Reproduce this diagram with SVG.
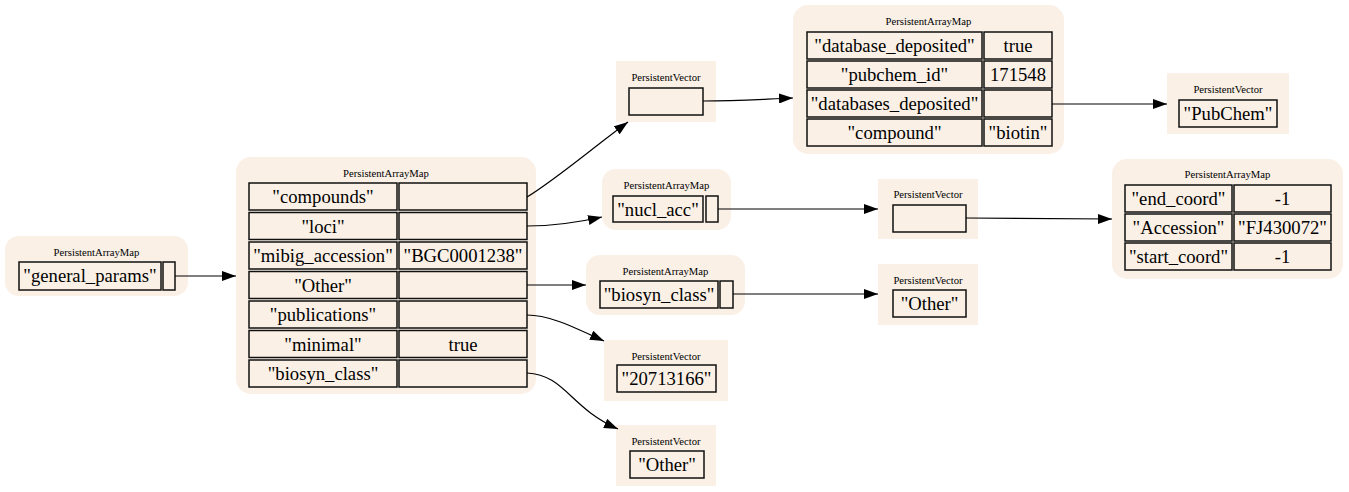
<svg xmlns="http://www.w3.org/2000/svg" width="1349" height="492" viewBox="0 0 1349 492">
<defs>
<style>
.bg{fill:#faf0e6;stroke:none}
.c{fill:#faf0e6;stroke:#111;stroke-width:1.5}
.t{font-family:"Liberation Serif","Times New Roman",serif;font-size:10.67px;fill:#000;text-anchor:middle}
.k{font-family:"Liberation Serif","Times New Roman",serif;font-size:18.67px;fill:#000;text-anchor:middle}
.e{fill:none;stroke:#000;stroke-width:1.2}
</style>
<marker id="ah" markerUnits="userSpaceOnUse" markerWidth="14" markerHeight="10" refX="14" refY="5" orient="auto">
<path d="M0,0 L14,5 L0,10 z" fill="#000"/>
</marker>
</defs>
<rect width="1349" height="492" fill="#fff"/>

<g id="node_root">
<rect class="bg" x="5" y="236" width="183" height="60" rx="14"/>
<text class="t" x="96.5" y="255.5">PersistentArrayMap</text>
<rect class="c" x="19" y="262" width="142" height="28"/>
<text class="k" x="90" y="282">"general_params"</text>
<rect class="c" x="163" y="262" width="12" height="28"/>
</g>

<g id="node_main">
<rect class="bg" x="236" y="157" width="300" height="237" rx="15"/>
<text class="t" x="386" y="176.5">PersistentArrayMap</text>
<rect class="c" x="249" y="183" width="148" height="27"/><text class="k" x="323" y="203">"compounds"</text>
<rect class="c" x="399" y="183" width="128" height="27"/>
<rect class="c" x="249" y="212.5" width="148" height="27"/><text class="k" x="323" y="232.5">"loci"</text>
<rect class="c" x="399" y="212.5" width="128" height="27"/>
<rect class="c" x="249" y="242" width="148" height="27"/><text class="k" x="323" y="262">"mibig_accession"</text>
<rect class="c" x="399" y="242" width="128" height="27"/><text class="k" x="463" y="262">"BGC0001238"</text>
<rect class="c" x="249" y="271.5" width="148" height="27"/><text class="k" x="323" y="291.5">"Other"</text>
<rect class="c" x="399" y="271.5" width="128" height="27"/>
<rect class="c" x="249" y="301" width="148" height="27"/><text class="k" x="323" y="321">"publications"</text>
<rect class="c" x="399" y="301" width="128" height="27"/>
<rect class="c" x="249" y="330.5" width="148" height="27"/><text class="k" x="323" y="350.5">"minimal"</text>
<rect class="c" x="399" y="330.5" width="128" height="27"/><text class="k" x="463" y="350.5">true</text>
<rect class="c" x="249" y="360" width="148" height="27"/><text class="k" x="323" y="380">"biosyn_class"</text>
<rect class="c" x="399" y="360" width="128" height="27"/>
</g>

<g id="node_compounds_vec">
<rect class="bg" x="616" y="61" width="100" height="61"/>
<text class="t" x="666" y="81">PersistentVector</text>
<rect class="c" x="629" y="88" width="74" height="27"/>
</g>

<g id="node_compound_map">
<rect class="bg" x="793" y="5" width="271" height="149" rx="15"/>
<text class="t" x="928.5" y="25">PersistentArrayMap</text>
<rect class="c" x="807" y="32" width="175" height="27"/><text class="k" x="894.5" y="52">"database_deposited"</text>
<rect class="c" x="984" y="32" width="68" height="27"/><text class="k" x="1018" y="52">true</text>
<rect class="c" x="807" y="61" width="175" height="27"/><text class="k" x="894.5" y="81">"pubchem_id"</text>
<rect class="c" x="984" y="61" width="68" height="27"/><text class="k" x="1018" y="81">171548</text>
<rect class="c" x="807" y="90" width="175" height="27"/><text class="k" x="894.5" y="110">"databases_deposited"</text>
<rect class="c" x="984" y="90" width="68" height="27"/>
<rect class="c" x="807" y="119" width="175" height="27"/><text class="k" x="894.5" y="139">"compound"</text>
<rect class="c" x="984" y="119" width="68" height="27"/><text class="k" x="1018" y="139">"biotin"</text>
</g>

<g id="node_pubchem_vec">
<rect class="bg" x="1167" y="73" width="122" height="61"/>
<text class="t" x="1228" y="93">PersistentVector</text>
<rect class="c" x="1179" y="100" width="98" height="27"/>
<text class="k" x="1228" y="120">"PubChem"</text>
</g>

<g id="node_loci_map">
<rect class="bg" x="602" y="169" width="129" height="61" rx="14"/>
<text class="t" x="666.5" y="189">PersistentArrayMap</text>
<rect class="c" x="613" y="196" width="90" height="26"/>
<text class="k" x="658" y="215.5">"nucl_acc"</text>
<rect class="c" x="706" y="196" width="12" height="26"/>
</g>

<g id="node_nucl_vec">
<rect class="bg" x="878" y="179" width="100" height="60"/>
<text class="t" x="928" y="198">PersistentVector</text>
<rect class="c" x="893" y="205" width="73" height="27"/>
</g>

<g id="node_coord_map">
<rect class="bg" x="1112" y="159" width="231" height="120" rx="15"/>
<text class="t" x="1227.5" y="178">PersistentArrayMap</text>
<rect class="c" x="1125" y="185" width="107" height="27"/><text class="k" x="1178.5" y="205">"end_coord"</text>
<rect class="c" x="1234" y="185" width="97" height="27"/><text class="k" x="1282.5" y="205">-1</text>
<rect class="c" x="1125" y="214" width="107" height="27"/><text class="k" x="1178.5" y="234">"Accession"</text>
<rect class="c" x="1234" y="214" width="97" height="27"/><text class="k" x="1282.5" y="234">"FJ430072"</text>
<rect class="c" x="1125" y="243" width="107" height="27"/><text class="k" x="1178.5" y="263">"start_coord"</text>
<rect class="c" x="1234" y="243" width="97" height="27"/><text class="k" x="1282.5" y="263">-1</text>
</g>

<g id="node_other_map">
<rect class="bg" x="586" y="255" width="159" height="60" rx="14"/>
<text class="t" x="665.5" y="275">PersistentArrayMap</text>
<rect class="c" x="600" y="281" width="118" height="27"/>
<text class="k" x="659" y="301">"biosyn_class"</text>
<rect class="c" x="720" y="281" width="13" height="27"/>
</g>

<g id="node_other_vec">
<rect class="bg" x="878" y="264" width="100" height="61"/>
<text class="t" x="928" y="284">PersistentVector</text>
<rect class="c" x="893" y="290" width="73" height="27"/>
<text class="k" x="929.5" y="310">"Other"</text>
</g>

<g id="node_pub_vec">
<rect class="bg" x="604" y="340" width="124" height="61"/>
<text class="t" x="666" y="360">PersistentVector</text>
<rect class="c" x="617" y="365" width="99" height="27"/>
<text class="k" x="666.5" y="385">"20713166"</text>
</g>

<g id="node_class_vec">
<rect class="bg" x="616" y="425" width="100" height="61"/>
<text class="t" x="666" y="445">PersistentVector</text>
<rect class="c" x="630" y="451" width="74" height="27"/>
<text class="k" x="667" y="471">"Other"</text>
</g>

<g id="connectors">
<path class="e" marker-end="url(#ah)" d="M175,276 L236,276"/>
<path class="e" marker-end="url(#ah)" d="M527,197 C555,180 590,150 628,122"/>
<path class="e" marker-end="url(#ah)" d="M527,226 C555,226 580,222 602,217"/>
<path class="e" marker-end="url(#ah)" d="M527,285 L586,285"/>
<path class="e" marker-end="url(#ah)" d="M527,315 C550,315 575,328 604,341"/>
<path class="e" marker-end="url(#ah)" d="M527,373 C565,375 570,408 618,429"/>
<path class="e" marker-end="url(#ah)" d="M703,101 C740,101 765,99 793,98"/>
<path class="e" marker-end="url(#ah)" d="M1052,104 L1167,104"/>
<path class="e" marker-end="url(#ah)" d="M718,209 L878,209"/>
<path class="e" marker-end="url(#ah)" d="M733,294 L878,294"/>
<path class="e" marker-end="url(#ah)" d="M966,218 C1020,218 1070,219 1112,219"/>
</g>
</svg>
